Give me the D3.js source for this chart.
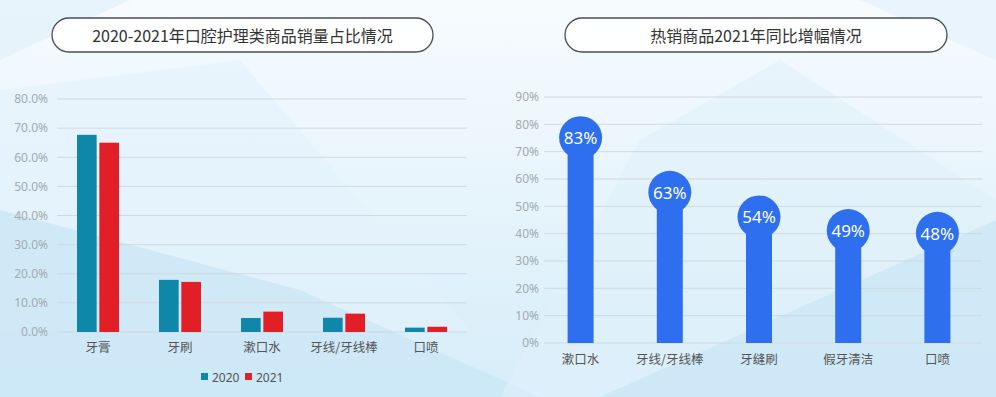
<!DOCTYPE html>
<html>
<head>
<meta charset="utf-8">
<script src="https://cdn.jsdelivr.net/npm/d3@7/dist/d3.min.js"></script>
<style>
  body { margin: 0; padding: 0; }
  svg { display: block; font-family: "Noto Sans CJK SC", "Noto Sans", sans-serif; }
</style>
</head>
<body>
<div class="chart"></div>
<script>
// left chart data
const categories1 = ["牙膏", "牙刷", "漱口水", "牙线/牙线棒", "口喷"]
const years = ["2020", "2021"]
const share2020 = [67.7, 17.9, 4.8, 4.9, 1.5]
const share2021 = [65.0, 17.2, 7.0, 6.3, 1.8]
const ticks1 = [0, 10, 20, 30, 40, 50, 60, 70, 80]

// right chart data
const categories2 = ["漱口水", "牙线/牙线棒", "牙缝刷", "假牙清洁", "口喷"]
const growth = [83, 63, 54, 49, 48]
const ticks2 = [0, 10, 20, 30, 40, 50, 60, 70, 80, 90]

const W = 996, H = 397

const svg = d3.select(".chart")
  .append("svg")
  .attr("width", W)
  .attr("height", H)

// background
const defs = svg.append("defs")
const bg = defs.append("linearGradient")
  .attr("id", "bg")
  .attr("x1", 0).attr("y1", 0).attr("x2", 0).attr("y2", 1)
bg.append("stop").attr("offset", "0%").attr("stop-color", "#f7fbfe")
bg.append("stop").attr("offset", "100%").attr("stop-color", "#d6edf9")

svg.append("rect").attr("width", W).attr("height", H).attr("fill", "url(#bg)")

const shapes = [
  { pts: [[0, 0], [130, 0], [0, 60]], fill: "#e3f1fa", op: 0.8 },
  { pts: [[0, 90], [240, 60], [470, 330], [0, 330]], fill: "#e3f2fb", op: 0.6 },
  { pts: [[0, 210], [300, 290], [540, 397], [0, 397]], fill: "#cae6f6", op: 0.75 },
  { pts: [[500, 397], [640, 140], [780, 60], [996, 200], [996, 397]], fill: "#e0f0fa", op: 0.6 },
  { pts: [[600, 397], [996, 220], [996, 397]], fill: "#c9e5f5", op: 0.7 },
  { pts: [[860, 0], [996, 0], [996, 60]], fill: "#e6f3fb", op: 0.8 }
]
svg.selectAll(".shape")
  .data(shapes)
  .join("polygon")
  .attr("class", "shape")
  .attr("points", d => d.pts.map(p => p.join(",")).join(" "))
  .attr("fill", d => d.fill)
  .attr("opacity", d => d.op)

// title pills
function titleBox(x0, x1, text) {
  const g = svg.append("g")
  g.append("rect")
    .attr("x", x0).attr("y", 18)
    .attr("width", x1 - x0).attr("height", 34)
    .attr("rx", 17).attr("ry", 17)
    .attr("fill", "#ffffff")
    .attr("fill-opacity", 0.85)
    .attr("stroke", "#4a4f55")
    .attr("stroke-width", 1.3)
  g.append("text")
    .attr("x", (x0 + x1) / 2).attr("y", 35)
    .attr("text-anchor", "middle")
    .attr("dominant-baseline", "central")
    .attr("font-size", 16)
    .attr("fill", "#333")
    .text(text)
}
titleBox(52, 433, "2020-2021年口腔护理类商品销量占比情况")
titleBox(565, 947, "热销商品2021年同比增幅情况")

// ---------- left grouped bar chart ----------
const x1 = d3.scaleBand()
  .domain(categories1)
  .range([57, 467])

const xInner = d3.scaleBand()
  .domain(years)
  .range([0, 42])
  .paddingInner(0.12)

const y1 = d3.scaleLinear()
  .domain([0, 80])
  .range([332, 99])

const colors = d3.scaleOrdinal()
  .domain(years)
  .range(["#0f87a9", "#e21f26"])

const left = svg.append("g")

left.selectAll(".grid1")
  .data(ticks1)
  .join("line")
  .attr("class", "grid1")
  .attr("x1", 57).attr("x2", 467)
  .attr("y1", d => y1(d)).attr("y2", d => y1(d))
  .attr("stroke", "#cfd9e0")
  .attr("stroke-width", 1)

const yAxis1 = left.append("g")
  .attr("transform", "translate(48,0)")
  .call(d3.axisLeft(y1).tickValues(ticks1).tickSize(0).tickFormat(d => d.toFixed(1) + "%"))
yAxis1.select(".domain").remove()
yAxis1.selectAll("text")
  .attr("font-family", "'Noto Sans', sans-serif")
  .attr("font-size", 12)
  .attr("fill", "#a3aab2")
  .attr("x", 0)

const rows1 = categories1.map((c, i) => ({ cat: c, values: [share2020[i], share2021[i]] }))

left.selectAll(".group")
  .data(rows1)
  .join("g")
  .attr("class", "group")
  .attr("transform", d => `translate(${x1(d.cat) + (x1.bandwidth() - 42) / 2},0)`)
  .selectAll("rect")
  .data(d => d.values.map((v, i) => ({ year: years[i], value: v })))
  .join("rect")
  .attr("x", d => xInner(d.year))
  .attr("width", xInner.bandwidth())
  .attr("y", d => y1(d.value))
  .attr("height", d => y1(0) - y1(d.value))
  .attr("fill", d => colors(d.year))

left.selectAll(".cat1")
  .data(categories1)
  .join("text")
  .attr("class", "cat1")
  .attr("x", d => x1(d) + x1.bandwidth() / 2)
  .attr("y", 352)
  .attr("text-anchor", "middle")
  .attr("font-size", 12.5)
  .attr("fill", "#555")
  .text(d => d)

// legend
const legend = left.selectAll(".legend")
  .data(years)
  .join("g")
  .attr("class", "legend")
  .attr("transform", (d, i) => `translate(${201 + i * 44},372)`)
legend.append("rect")
  .attr("width", 7).attr("height", 7)
  .attr("y", 1)
  .attr("fill", d => colors(d))
legend.append("text")
  .attr("x", 11).attr("y", 5)
  .attr("dominant-baseline", "central")
  .attr("font-family", "'Noto Sans', sans-serif")
  .attr("font-size", 12)
  .attr("fill", "#555")
  .text(d => d)

// ---------- right lollipop chart ----------
const x2 = d3.scaleBand()
  .domain(categories2)
  .range([536, 982])

const y2 = d3.scaleLinear()
  .domain([0, 90])
  .range([343, 97])

const right = svg.append("g")

right.selectAll(".grid2")
  .data(ticks2)
  .join("line")
  .attr("class", "grid2")
  .attr("x1", 544).attr("x2", 982)
  .attr("y1", d => y2(d)).attr("y2", d => y2(d))
  .attr("stroke", "#cfd9e0")
  .attr("stroke-width", 1)

const yAxis2 = right.append("g")
  .attr("transform", "translate(539,0)")
  .call(d3.axisLeft(y2).tickValues(ticks2).tickSize(0).tickFormat(d => d + "%"))
yAxis2.select(".domain").remove()
yAxis2.selectAll("text")
  .attr("font-family", "'Noto Sans', sans-serif")
  .attr("font-size", 12)
  .attr("fill", "#a3aab2")
  .attr("x", 0)

const r = 21.5
const blue = "#2e6ff0"
const rows2 = categories2.map((c, i) => ({ cat: c, value: growth[i] }))

const pops = right.selectAll(".pop")
  .data(rows2)
  .join("g")
  .attr("class", "pop")
  .attr("transform", d => `translate(${x2(d.cat) + x2.bandwidth() / 2},0)`)

pops.append("rect")
  .attr("x", -13).attr("width", 26)
  .attr("y", d => y2(d.value) + r)
  .attr("height", d => y2(0) - y2(d.value) - r)
  .attr("fill", blue)

pops.append("circle")
  .attr("cy", d => y2(d.value) + r)
  .attr("r", r)
  .attr("fill", blue)

pops.append("text")
  .attr("y", d => y2(d.value) + r)
  .attr("text-anchor", "middle")
  .attr("dominant-baseline", "central")
  .attr("font-family", "'Noto Sans', sans-serif")
  .attr("font-size", 17)
  .attr("font-weight", 400)
  .attr("fill", "#ffffff")
  .text(d => d.value + "%")

right.selectAll(".cat2")
  .data(categories2)
  .join("text")
  .attr("class", "cat2")
  .attr("x", d => x2(d) + x2.bandwidth() / 2)
  .attr("y", 364)
  .attr("text-anchor", "middle")
  .attr("font-size", 12.5)
  .attr("fill", "#555")
  .text(d => d)
</script>
</body>
</html>
